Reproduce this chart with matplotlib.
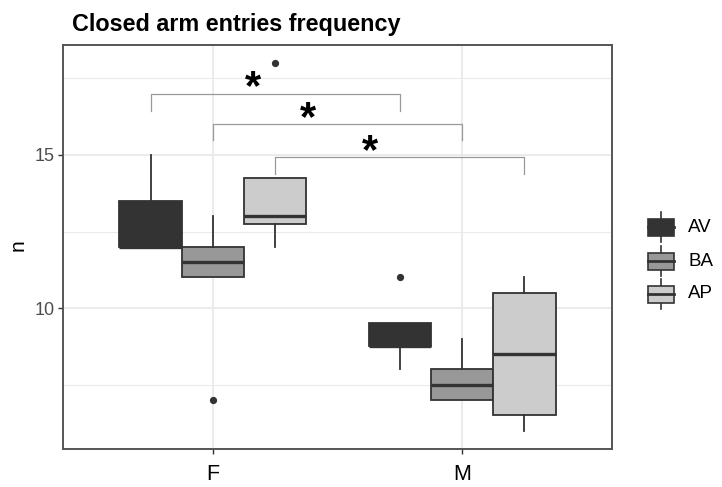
import numpy as np
import matplotlib
matplotlib.use("Agg")
from matplotlib import pyplot as plt
from matplotlib.patches import Rectangle

plt.rcParams['font.family'] = ['Liberation Sans', 'DejaVu Sans']

# 数据
sexes = ['F', 'M']
groups = ['AV', 'BA', 'AP']
fills = ['#333333', '#989898', '#cccccc']

# 每组的箱线统计量 (F, M)
q1 = {'AV': [12.0, 8.75], 'BA': [11.0, 7.0], 'AP': [12.75, 6.5]}
med = {'AV': [12.0, 8.75], 'BA': [11.5, 7.5], 'AP': [13.0, 8.5]}
q3 = {'AV': [13.5, 9.5], 'BA': [12.0, 8.0], 'AP': [14.25, 10.5]}
whislo = {'AV': [12.0, 8.0], 'BA': [11.0, 7.0], 'AP': [12.0, 6.0]}
whishi = {'AV': [15.0, 9.5], 'BA': [13.0, 9.0], 'AP': [14.25, 11.0]}
fliers = {'AV': [[], [11.0]], 'BA': [[7.0], []], 'AP': [[18.0], []]}

# 显著性标记
sig_pairs = [('AV', 'AV'), ('BA', 'BA'), ('AP', 'AP')]
sig_y = [17.0, 16.0, 14.93]
sig_tip = [0.55, 0.5, 0.55]
star_x = [1.16, 1.38, 1.63]
star_y = [17.18, 16.18, 15.08]

W, H = 722, 487
fig = plt.figure(figsize=(W / 100, H / 100), dpi=100)
ax = fig.add_axes([63.3 / W, 1 - 449 / H, (611.7 - 63.3) / W, (449 - 44.7) / H])

dodge = 0.25
edge = '#333333'
for gi, g in enumerate(groups):
    stats = []
    pos = []
    for si, s in enumerate(sexes):
        stats.append(dict(med=med[g][si], q1=q1[g][si], q3=q3[g][si],
                          whislo=whislo[g][si], whishi=whishi[g][si],
                          fliers=fliers[g][si]))
        pos.append(si + 1 + (gi - 1) * dodge)
    ax.bxp(stats, positions=pos, widths=dodge, showcaps=False, patch_artist=True,
           boxprops=dict(facecolor=fills[gi], edgecolor=edge, linewidth=1.3),
           whiskerprops=dict(color=edge, linewidth=1.3),
           medianprops=dict(color=edge, linewidth=2.4),
           flierprops=dict(marker='o', markerfacecolor=edge, markeredgecolor=edge,
                           markersize=4.2), zorder=3)

# 显著性括号
for k, (a, b) in enumerate(sig_pairs):
    x1 = 1 + (groups.index(a) - 1) * dodge
    x2 = 2 + (groups.index(b) - 1) * dodge
    y = sig_y[k]
    ax.plot([x1, x1, x2, x2], [y - sig_tip[k], y, y, y - sig_tip[k]],
            color='#999999', linewidth=0.9, zorder=4)
    ax.text(star_x[k], star_y[k], '*', fontsize=30, fontweight='bold',
            ha='center', va='center', color='black', zorder=5)

ax.set_xlim(0.4, 2.6)
ax.set_ylim(5.4, 18.6)
ax.set_xticks([1, 2])
ax.set_xticklabels(sexes, fontsize=15.5, color='black')
ax.set_yticks([10, 15])
ax.set_yticks([7.5, 12.5, 17.5], minor=True)
ax.set_yticklabels(['10', '15'], fontsize=13, color='#4d4d4d')
ax.tick_params(axis='both', which='major', length=3.5, width=1, color='#333333')
ax.tick_params(axis='x', pad=7)
ax.tick_params(axis='y', pad=3)
ax.tick_params(axis='y', which='minor', length=0)
ax.grid(True, which='major', color='#ebebeb', linewidth=1.4, zorder=0)
ax.grid(True, which='minor', axis='y', color='#ebebeb', linewidth=0.8, zorder=0)
ax.set_axisbelow(True)
for sp in ax.spines.values():
    sp.set_color('#555555')
    sp.set_linewidth(1.4)

fig.text(18 / W, 1 - 245 / H, 'n', rotation=90, fontsize=15, ha='center', va='center')
fig.text(71.7 / W, 1 - 30.7 / H, 'Closed arm entries frequency', fontsize=16.8,
         fontweight='bold', ha='left', va='baseline')

# 图例
lg = fig.add_axes([0, 0, 1, 1], zorder=10)
lg.set_xlim(0, W)
lg.set_ylim(H, 0)
lg.axis('off')
key_y = [227, 261, 294]
for gi, g in enumerate(groups):
    cy = key_y[gi]
    lg.plot([661, 661], [cy - 15, cy + 15], color=edge, linewidth=1.2)
    lg.add_patch(Rectangle((648, cy - 8.5), 26, 17, facecolor=fills[gi],
                           edgecolor=edge, linewidth=1.2, zorder=3))
    lg.plot([648, 674], [cy, cy], color=edge, linewidth=2, zorder=4)
    lg.text(688, cy, g, fontsize=13.5, ha='left', va='center')

fig.savefig('out.png', dpi=100)
